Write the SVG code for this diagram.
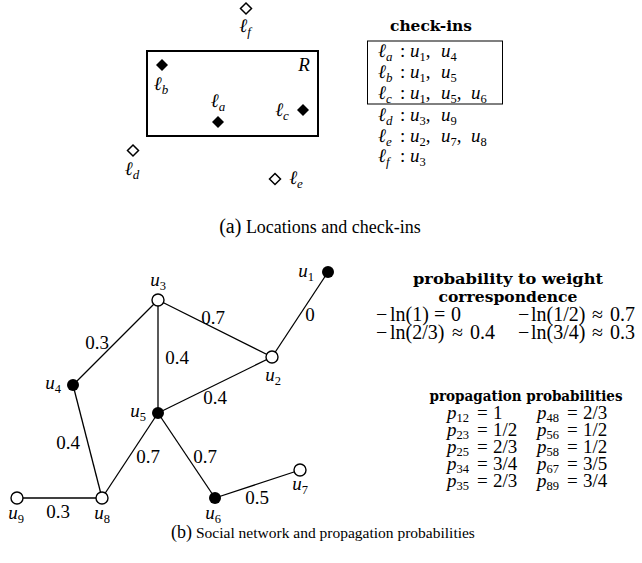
<svg xmlns="http://www.w3.org/2000/svg" width="642" height="563" viewBox="0 0 642 563">
<style>
.m{font-family:"Liberation Serif",serif;font-style:italic;font-size:19px;fill:#000}
.n{font-family:"Liberation Serif",serif;font-size:19px;fill:#000}
.l{font-family:"Liberation Serif",serif;font-size:20px;fill:#000}
.u{font-style:normal}
.b{font-family:"DejaVu Serif",serif;font-weight:bold;font-size:14.5px;fill:#000}
.sd{font-size:12.5px;font-style:normal}
.si{font-size:13px;font-style:italic}
.cap{font-family:"Liberation Serif",serif;fill:#000}
.edge{stroke:#000;stroke-width:1.3;fill:none}
.fill{fill:#000}
.open{fill:#fff;stroke:#000;stroke-width:1.4}
.dopen{fill:#fff;stroke:#000;stroke-width:1.5}
</style>
<rect width="642" height="563" fill="#fff"/>

<!-- (a) locations -->
<g id="region-R">
<rect x="147" y="51" width="171" height="85" fill="none" stroke="#000" stroke-width="2"/>
<text class="m" x="304" y="71" text-anchor="middle">R</text>
</g>
<g id="loc-f"><polygon class="dopen" points="246,3 251.5,8.5 246,14 240.5,8.5"/><text class="m" x="245" y="32" text-anchor="middle">ℓ<tspan class="si" dy="4">f</tspan></text></g>
<g id="loc-b"><polygon class="fill" points="162,59 168,65 162,71 156,65"/><text class="m" x="161" y="90" text-anchor="middle">ℓ<tspan class="si" dy="4">b</tspan></text></g>
<g id="loc-a"><polygon class="fill" points="218,116 224,122 218,128 212,122"/><text class="m" x="218" y="107" text-anchor="middle">ℓ<tspan class="si" dy="4">a</tspan></text></g>
<g id="loc-c"><polygon class="fill" points="303,104 309,110 303,116 297,110"/><text class="m" x="282" y="116" text-anchor="middle">ℓ<tspan class="si" dy="4">c</tspan></text></g>
<g id="loc-d"><polygon class="dopen" points="133,145 138.5,150.5 133,156 127.5,150.5"/><text class="m" x="132" y="175" text-anchor="middle">ℓ<tspan class="si" dy="4">d</tspan></text></g>
<g id="loc-e"><polygon class="dopen" points="275,173.5 280.5,179 275,184.5 269.5,179"/><text class="m" x="296" y="184" text-anchor="middle">ℓ<tspan class="si" dy="4">e</tspan></text></g>

<!-- check-ins table -->
<g id="checkins">
<text class="b" x="431" y="31" text-anchor="middle" textLength="82" lengthAdjust="spacingAndGlyphs">check-ins</text>
<rect x="367.5" y="41" width="135" height="63" fill="none" stroke="#000" stroke-width="1"/>
<text class="m" x="378" y="57">ℓ<tspan class="si" dy="4">a</tspan><tspan class="u" x="400" dy="-4">:</tspan><tspan x="410">u</tspan><tspan class="sd" dy="4">1</tspan><tspan class="u" dy="-4">,</tspan><tspan x="441">u</tspan><tspan class="sd" dy="4">4</tspan></text>
<text class="m" x="378" y="78">ℓ<tspan class="si" dy="4">b</tspan><tspan class="u" x="400" dy="-4">:</tspan><tspan x="410">u</tspan><tspan class="sd" dy="4">1</tspan><tspan class="u" dy="-4">,</tspan><tspan x="441">u</tspan><tspan class="sd" dy="4">5</tspan></text>
<text class="m" x="378" y="99">ℓ<tspan class="si" dy="4">c</tspan><tspan class="u" x="400" dy="-4">:</tspan><tspan x="410">u</tspan><tspan class="sd" dy="4">1</tspan><tspan class="u" dy="-4">,</tspan><tspan x="441">u</tspan><tspan class="sd" dy="4">5</tspan><tspan class="u" dy="-4">,</tspan><tspan x="471">u</tspan><tspan class="sd" dy="4">6</tspan></text>
<text class="m" x="378" y="121">ℓ<tspan class="si" dy="4">d</tspan><tspan class="u" x="400" dy="-4">:</tspan><tspan x="410">u</tspan><tspan class="sd" dy="4">3</tspan><tspan class="u" dy="-4">,</tspan><tspan x="441">u</tspan><tspan class="sd" dy="4">9</tspan></text>
<text class="m" x="378" y="142">ℓ<tspan class="si" dy="4">e</tspan><tspan class="u" x="400" dy="-4">:</tspan><tspan x="410">u</tspan><tspan class="sd" dy="4">2</tspan><tspan class="u" dy="-4">,</tspan><tspan x="441">u</tspan><tspan class="sd" dy="4">7</tspan><tspan class="u" dy="-4">,</tspan><tspan x="471">u</tspan><tspan class="sd" dy="4">8</tspan></text>
<text class="m" x="378" y="162">ℓ<tspan class="si" dy="4">f</tspan><tspan class="u" x="400" dy="-4">:</tspan><tspan x="410">u</tspan><tspan class="sd" dy="4">3</tspan></text>
</g>

<text class="cap" x="320" y="233" text-anchor="middle" font-size="18"><tspan font-size="20">(a)</tspan> Locations and check-ins</text>

<!-- (b) social network -->
<g id="connectors">
<line class="edge" x1="328" y1="272" x2="272" y2="357"/>
<line class="edge" x1="158" y1="300" x2="272" y2="357"/>
<line class="edge" x1="158" y1="300" x2="73" y2="385"/>
<line class="edge" x1="158" y1="300" x2="158" y2="413"/>
<line class="edge" x1="272" y1="357" x2="158" y2="413"/>
<line class="edge" x1="73" y1="385" x2="102" y2="498"/>
<line class="edge" x1="158" y1="413" x2="102" y2="498"/>
<line class="edge" x1="158" y1="413" x2="215" y2="498"/>
<line class="edge" x1="215" y1="498" x2="300" y2="470"/>
<line class="edge" x1="17" y1="498" x2="102" y2="498"/>
<text class="n" x="310" y="321" text-anchor="middle">0</text>
<text class="n" x="213" y="324" text-anchor="middle">0.7</text>
<text class="n" x="97" y="349" text-anchor="middle">0.3</text>
<text class="n" x="177" y="364" text-anchor="middle">0.4</text>
<text class="n" x="215" y="404" text-anchor="middle">0.4</text>
<text class="n" x="68" y="449" text-anchor="middle">0.4</text>
<text class="n" x="148" y="463" text-anchor="middle">0.7</text>
<text class="n" x="205" y="463" text-anchor="middle">0.7</text>
<text class="n" x="257" y="504" text-anchor="middle">0.5</text>
<text class="n" x="58" y="518" text-anchor="middle">0.3</text>
</g>
<g id="u1"><circle class="fill" cx="328" cy="272" r="6"/><text class="m" x="314" y="277" text-anchor="end">u<tspan class="sd" dy="4">1</tspan></text></g>
<g id="u2"><circle class="open" cx="272" cy="357" r="6"/><text class="m" x="273" y="381" text-anchor="middle">u<tspan class="sd" dy="4">2</tspan></text></g>
<g id="u3"><circle class="open" cx="158" cy="300" r="6"/><text class="m" x="158" y="286" text-anchor="middle">u<tspan class="sd" dy="4">3</tspan></text></g>
<g id="u4"><circle class="fill" cx="73" cy="385" r="6"/><text class="m" x="61" y="389" text-anchor="end">u<tspan class="sd" dy="4">4</tspan></text></g>
<g id="u5"><circle class="fill" cx="158" cy="413" r="6"/><text class="m" x="146" y="417" text-anchor="end">u<tspan class="sd" dy="4">5</tspan></text></g>
<g id="u6"><circle class="fill" cx="215" cy="498" r="6"/><text class="m" x="213" y="519" text-anchor="middle">u<tspan class="sd" dy="4">6</tspan></text></g>
<g id="u7"><circle class="open" cx="300" cy="470" r="6"/><text class="m" x="300" y="490" text-anchor="middle">u<tspan class="sd" dy="4">7</tspan></text></g>
<g id="u8"><circle class="open" cx="102" cy="498" r="6"/><text class="m" x="102" y="519" text-anchor="middle">u<tspan class="sd" dy="4">8</tspan></text></g>
<g id="u9"><circle class="open" cx="17" cy="498" r="6"/><text class="m" x="16" y="519" text-anchor="middle">u<tspan class="sd" dy="4">9</tspan></text></g>

<!-- correspondence -->
<g id="correspondence">
<text class="b" x="508" y="284" text-anchor="middle" textLength="190" lengthAdjust="spacingAndGlyphs">probability to weight</text>
<text class="b" x="508" y="302" text-anchor="middle" textLength="139" lengthAdjust="spacingAndGlyphs">correspondence</text>
<text class="l" x="376" y="321">−<tspan x="390">ln(1)</tspan><tspan x="434">=</tspan><tspan x="451">0</tspan></text>
<text class="l" x="518" y="321">−<tspan x="531">ln(1/2)</tspan><tspan x="592">≈</tspan><tspan x="610">0.7</tspan></text>
<text class="l" x="376" y="339">−<tspan x="390">ln(2/3)</tspan><tspan x="452">≈</tspan><tspan x="470">0.4</tspan></text>
<text class="l" x="518" y="339">−<tspan x="531">ln(3/4)</tspan><tspan x="592">≈</tspan><tspan x="610">0.3</tspan></text>
</g>

<!-- propagation probabilities -->
<g id="propagation">
<text class="b" x="526" y="401" text-anchor="middle" textLength="193" lengthAdjust="spacingAndGlyphs">propagation probabilities</text>
<text class="m" x="447" y="419">p<tspan class="sd" dy="3">12</tspan><tspan class="u" x="477" dy="-3">=</tspan><tspan class="u" x="493">1</tspan></text>
<text class="m" x="447" y="436">p<tspan class="sd" dy="3">23</tspan><tspan class="u" x="477" dy="-3">=</tspan><tspan class="u" x="493">1/2</tspan></text>
<text class="m" x="447" y="453">p<tspan class="sd" dy="3">25</tspan><tspan class="u" x="477" dy="-3">=</tspan><tspan class="u" x="493">2/3</tspan></text>
<text class="m" x="447" y="470">p<tspan class="sd" dy="3">34</tspan><tspan class="u" x="477" dy="-3">=</tspan><tspan class="u" x="493">3/4</tspan></text>
<text class="m" x="447" y="487">p<tspan class="sd" dy="3">35</tspan><tspan class="u" x="477" dy="-3">=</tspan><tspan class="u" x="493">2/3</tspan></text>
<text class="m" x="537" y="419">p<tspan class="sd" dy="3">48</tspan><tspan class="u" x="567" dy="-3">=</tspan><tspan class="u" x="583">2/3</tspan></text>
<text class="m" x="537" y="436">p<tspan class="sd" dy="3">56</tspan><tspan class="u" x="567" dy="-3">=</tspan><tspan class="u" x="583">1/2</tspan></text>
<text class="m" x="537" y="453">p<tspan class="sd" dy="3">58</tspan><tspan class="u" x="567" dy="-3">=</tspan><tspan class="u" x="583">1/2</tspan></text>
<text class="m" x="537" y="470">p<tspan class="sd" dy="3">67</tspan><tspan class="u" x="567" dy="-3">=</tspan><tspan class="u" x="583">3/5</tspan></text>
<text class="m" x="537" y="487">p<tspan class="sd" dy="3">89</tspan><tspan class="u" x="567" dy="-3">=</tspan><tspan class="u" x="583">3/4</tspan></text>
</g>

<text class="cap" x="323" y="538" text-anchor="middle" font-size="15.5"><tspan font-size="18">(b)</tspan> Social network and propagation probabilities</text>
</svg>
